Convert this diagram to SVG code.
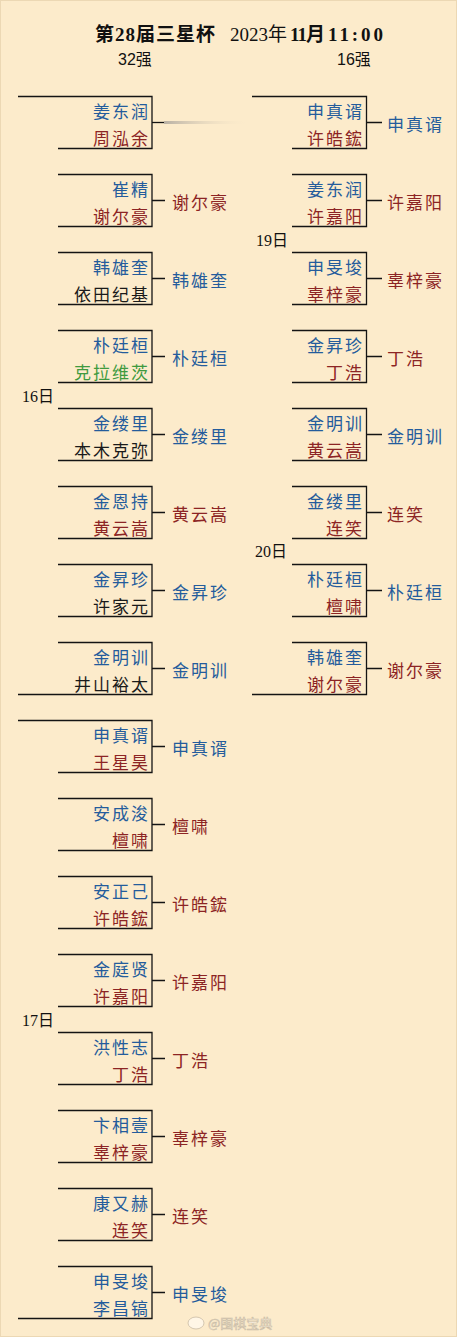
<svg xmlns="http://www.w3.org/2000/svg" width="457" height="1337" viewBox="0 0 457 1337">
<style>
.bg{fill:#fcebcb;stroke:#ecd8b4;stroke-width:2}
.br{fill:none;stroke:#141414;stroke-width:1.3}
.cn{fill:none;stroke:#141414;stroke-width:1.3}
.nm{font-family:"Noto Sans CJK SC","Noto Sans",sans-serif;font-size:17px;letter-spacing:2px}
.end{text-anchor:end}
.b{fill:#245c9c}
.r{fill:#8c2424}
.k{fill:#1a1a1a}
.g{fill:#3f9a3f}
.hdr{font-family:"Liberation Serif","Noto Sans CJK SC",serif;font-size:19px;fill:#111}
.bold{font-weight:bold}
.sub{font-family:"Liberation Sans","Noto Sans CJK SC",sans-serif;font-size:16px;fill:#111}
.day{font-family:"Liberation Serif","Noto Sans CJK SC",serif;font-size:16px;fill:#111}
.wm{font-family:"Noto Sans CJK SC",sans-serif;font-size:13px;fill:#fff6e6;stroke:#c9bba4;stroke-width:0.6}
</style>
<defs>
<linearGradient id="fade" x1="0" y1="0" x2="1" y2="0">
<stop offset="0" stop-color="#b8b0a4"/>
<stop offset="1" stop-color="#fcebcb" stop-opacity="0"/>
</linearGradient>
</defs>
<rect class="bg" x="0" y="0" width="457" height="1337"/>

<g id="header">
<text class="hdr bold" x="95" y="41" textLength="120">第28届三星杯</text>
<text class="hdr" x="230" y="41" textLength="57">2023年</text>
<text class="hdr bold" x="290" y="41" textLength="35">11月</text>
<text class="hdr bold" x="328" y="41" textLength="55">11:00</text>
<text class="sub" x="118" y="65">32强</text>
<text class="sub" x="337" y="65">16强</text>
</g>

<g id="days">
<text class="day" x="22" y="402">16日</text>
<text class="day" x="22" y="1026">17日</text>
<text class="day" x="256" y="246">19日</text>
<text class="day" x="255" y="557">20日</text>
</g>

<g id="connectors">
<path class="cn" d="M152 122.5H164"/>
<rect x="164" y="121" width="86" height="3" fill="url(#fade)"/>
<path class="cn" d="M152 200.5H165M152 278.5H165M152 356.5H165M152 434.5H165M152 512.5H165M152 590.5H165M152 668.5H165M152 746.5H165M152 824.5H165M152 902.5H165M152 980.5H165M152 1058.5H165M152 1136.5H165M152 1214.5H165M152 1292.5H165"/>
<path class="cn" d="M366.5 122.5H382M366.5 200.5H382M366.5 278.5H382M366.5 356.5H382M366.5 434.5H382M366.5 512.5H382M366.5 590.5H382M366.5 668.5H382"/>
</g>

<g id="L1"><path class="br" d="M18 96.5H152V148.5H58"/><text class="nm end b" x="150" y="118">姜东润</text><text class="nm end r" x="150" y="145">周泓余</text></g>
<g id="L2"><path class="br" d="M58 174.5H152V226.5H58"/><text class="nm end b" x="150" y="196">崔精</text><text class="nm end r" x="150" y="223">谢尔豪</text><text class="nm r" x="172" y="209">谢尔豪</text></g>
<g id="L3"><path class="br" d="M58 252.5H152V304.5H58"/><text class="nm end b" x="150" y="274">韩雄奎</text><text class="nm end k" x="150" y="301">依田纪基</text><text class="nm b" x="172" y="287">韩雄奎</text></g>
<g id="L4"><path class="br" d="M58 330.5H152V382.5H58"/><text class="nm end b" x="150" y="352">朴廷桓</text><text class="nm end g" x="150" y="379">克拉维茨</text><text class="nm b" x="172" y="365">朴廷桓</text></g>
<g id="L5"><path class="br" d="M58 408.5H152V460.5H58"/><text class="nm end b" x="150" y="430">金缕里</text><text class="nm end k" x="150" y="457">本木克弥</text><text class="nm b" x="172" y="443">金缕里</text></g>
<g id="L6"><path class="br" d="M58 486.5H152V538.5H58"/><text class="nm end b" x="150" y="508">金恩持</text><text class="nm end r" x="150" y="535">黄云嵩</text><text class="nm r" x="172" y="521">黄云嵩</text></g>
<g id="L7"><path class="br" d="M58 564.5H152V616.5H58"/><text class="nm end b" x="150" y="586">金昇珍</text><text class="nm end k" x="150" y="613">许家元</text><text class="nm b" x="172" y="599">金昇珍</text></g>
<g id="L8"><path class="br" d="M58 642.5H152V694.5H18"/><text class="nm end b" x="150" y="664">金明训</text><text class="nm end k" x="150" y="691">井山裕太</text><text class="nm b" x="172" y="677">金明训</text></g>
<g id="L9"><path class="br" d="M18 720.5H152V772.5H58"/><text class="nm end b" x="150" y="742">申真谞</text><text class="nm end r" x="150" y="769">王星昊</text><text class="nm b" x="172" y="755">申真谞</text></g>
<g id="L10"><path class="br" d="M58 798.5H152V850.5H58"/><text class="nm end b" x="150" y="820">安成浚</text><text class="nm end r" x="150" y="847">檀啸</text><text class="nm r" x="172" y="833">檀啸</text></g>
<g id="L11"><path class="br" d="M58 876.5H152V928.5H58"/><text class="nm end b" x="150" y="898">安正己</text><text class="nm end r" x="150" y="925">许皓鋐</text><text class="nm r" x="172" y="911">许皓鋐</text></g>
<g id="L12"><path class="br" d="M58 954.5H152V1006.5H58"/><text class="nm end b" x="150" y="976">金庭贤</text><text class="nm end r" x="150" y="1003">许嘉阳</text><text class="nm r" x="172" y="989">许嘉阳</text></g>
<g id="L13"><path class="br" d="M58 1032.5H152V1084.5H58"/><text class="nm end b" x="150" y="1054">洪性志</text><text class="nm end r" x="150" y="1081">丁浩</text><text class="nm r" x="172" y="1067">丁浩</text></g>
<g id="L14"><path class="br" d="M58 1110.5H152V1162.5H58"/><text class="nm end b" x="150" y="1132">卞相壹</text><text class="nm end r" x="150" y="1159">辜梓豪</text><text class="nm r" x="172" y="1145">辜梓豪</text></g>
<g id="L15"><path class="br" d="M58 1188.5H152V1240.5H58"/><text class="nm end b" x="150" y="1210">康又赫</text><text class="nm end r" x="150" y="1237">连笑</text><text class="nm r" x="172" y="1223">连笑</text></g>
<g id="L16"><path class="br" d="M58 1266.5H152V1318.5H18"/><text class="nm end b" x="150" y="1288">申旻埈</text><text class="nm end b" x="150" y="1315">李昌镐</text><text class="nm b" x="172" y="1301">申旻埈</text></g>

<g id="R1"><path class="br" d="M252 96.5H366.5V148.5H292"/><text class="nm end b" x="364" y="118">申真谞</text><text class="nm end r" x="364" y="145">许皓鋐</text><text class="nm b" x="387" y="131">申真谞</text></g>
<g id="R2"><path class="br" d="M292 174.5H366.5V226.5H292"/><text class="nm end b" x="364" y="196">姜东润</text><text class="nm end r" x="364" y="223">许嘉阳</text><text class="nm r" x="387" y="209">许嘉阳</text></g>
<g id="R3"><path class="br" d="M292 252.5H366.5V304.5H292"/><text class="nm end b" x="364" y="274">申旻埈</text><text class="nm end r" x="364" y="301">辜梓豪</text><text class="nm r" x="387" y="287">辜梓豪</text></g>
<g id="R4"><path class="br" d="M292 330.5H366.5V382.5H292"/><text class="nm end b" x="364" y="352">金昇珍</text><text class="nm end r" x="364" y="379">丁浩</text><text class="nm r" x="387" y="365">丁浩</text></g>
<g id="R5"><path class="br" d="M292 408.5H366.5V460.5H292"/><text class="nm end b" x="364" y="430">金明训</text><text class="nm end r" x="364" y="457">黄云嵩</text><text class="nm b" x="387" y="443">金明训</text></g>
<g id="R6"><path class="br" d="M292 486.5H366.5V538.5H292"/><text class="nm end b" x="364" y="508">金缕里</text><text class="nm end r" x="364" y="535">连笑</text><text class="nm r" x="387" y="521">连笑</text></g>
<g id="R7"><path class="br" d="M292 564.5H366.5V616.5H292"/><text class="nm end b" x="364" y="586">朴廷桓</text><text class="nm end r" x="364" y="613">檀啸</text><text class="nm b" x="387" y="599">朴廷桓</text></g>
<g id="R8"><path class="br" d="M292 642.5H366.5V694.5H252"/><text class="nm end b" x="364" y="664">韩雄奎</text><text class="nm end r" x="364" y="691">谢尔豪</text><text class="nm r" x="387" y="677">谢尔豪</text></g>

<g id="watermark">
<ellipse cx="196" cy="1323" rx="8" ry="6" fill="#fff6e6" stroke="#c9bba4" stroke-width="0.8"/>
<text class="wm" x="208" y="1328">@围棋宝典</text>
</g>
</svg>
